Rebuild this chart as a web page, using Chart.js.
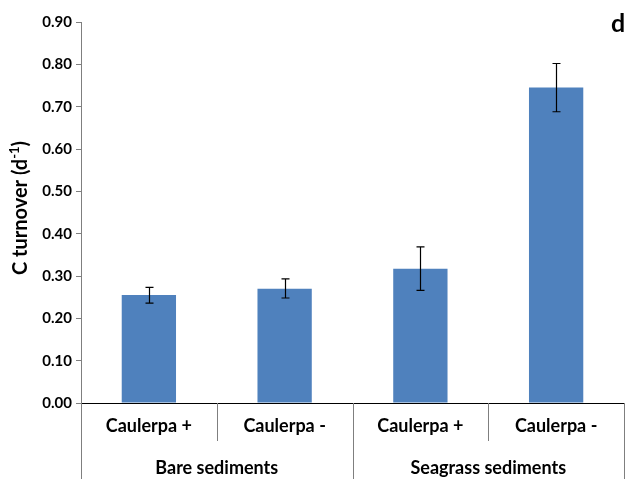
<!DOCTYPE html>
<html>
<head>
<meta charset="utf-8">
<script src="https://cdn.jsdelivr.net/npm/chart.js@4.4.0/dist/chart.umd.min.js"></script>
<style>
  html, body { margin: 0; padding: 0; background: #fff; }
  #wrap { width: 628px; height: 479px; position: relative; }
</style>
</head>
<body>
<div id="wrap"><canvas id="chart"></canvas></div>
<script>
// valores
const categories = ['Caulerpa +', 'Caulerpa -', 'Caulerpa +', 'Caulerpa -'];
const groups = ['Bare sediments', 'Seagrass sediments'];
const turnover = [0.255, 0.270, 0.317, 0.745];
const errLow = [0.236, 0.248, 0.266, 0.688];
const errHigh = [0.273, 0.293, 0.369, 0.802];
const yTicks = [0, 0.1, 0.2, 0.3, 0.4, 0.5, 0.6, 0.7, 0.8, 0.9];

const FONT = 'Lato, "Open Sans", sans-serif';

// barras de erro
const errorBars = {
  id: 'errorBars',
  afterDatasetsDraw(chart) {
    const { ctx } = chart;
    const y = chart.scales.y;
    const meta = chart.getDatasetMeta(0);
    ctx.save();
    ctx.strokeStyle = '#000';
    ctx.lineWidth = 1.2;
    meta.data.forEach((bar, i) => {
      const x = Math.round(bar.x) + 0.5;
      const yl = y.getPixelForValue(errLow[i]);
      const yh = y.getPixelForValue(errHigh[i]);
      ctx.beginPath();
      ctx.moveTo(x, yl);
      ctx.lineTo(x, yh);
      ctx.moveTo(x - 4, yh);
      ctx.lineTo(x + 4, yh);
      ctx.moveTo(x - 4, yl);
      ctx.lineTo(x + 4, yl);
      ctx.stroke();
    });
    ctx.restore();
  },
};

// eixo x em dois níveis + título do eixo y + letra do painel
const extras = {
  id: 'extras',
  afterDraw(chart) {
    const { ctx, chartArea } = chart;
    const x = chart.scales.x;
    const n = categories.length;
    const step = (chartArea.right - chartArea.left) / n;
    const bottom = chart.height;
    ctx.save();
    ctx.strokeStyle = '#7f7f7f';
    ctx.lineWidth = 1;
    for (let i = 0; i <= n; i++) {
      const px = Math.round(chartArea.left + i * step) + 0.5;
      const full = i % 2 === 0;
      ctx.beginPath();
      ctx.moveTo(px, chartArea.bottom);
      ctx.lineTo(px, full ? bottom : chartArea.bottom + 38);
      ctx.stroke();
    }
    ctx.fillStyle = '#000';
    ctx.font = 'bold 18px ' + FONT;
    ctx.textAlign = 'center';
    ctx.textBaseline = 'middle';
    groups.forEach((g, gi) => {
      const cx = (x.getPixelForValue(gi * 2) + x.getPixelForValue(gi * 2 + 1)) / 2;
      ctx.fillText(g, cx, 468);
    });

    // título do eixo y com expoente
    ctx.save();
    ctx.translate(21, 208);
    ctx.rotate(-Math.PI / 2);
    const main = 'C turnover (d';
    const sup = '-1';
    const close = ')';
    ctx.font = 'bold 20px ' + FONT;
    const wMain = ctx.measureText(main).width;
    const wClose = ctx.measureText(close).width;
    ctx.font = 'bold 13px ' + FONT;
    const wSup = ctx.measureText(sup).width;
    const total = wMain + wSup + wClose;
    let sx = -total / 2;
    ctx.textAlign = 'left';
    ctx.font = 'bold 20px ' + FONT;
    ctx.fillText(main, sx, 0);
    sx += wMain;
    ctx.font = 'bold 13px ' + FONT;
    ctx.fillText(sup, sx, -6);
    sx += wSup;
    ctx.font = 'bold 20px ' + FONT;
    ctx.fillText(close, sx, 0);
    ctx.restore();

    ctx.font = 'bold 25px ' + FONT;
    ctx.textAlign = 'center';
    ctx.fillText('d', 618, 24);
    ctx.restore();
  },
};

new Chart(document.getElementById('chart'), {
  type: 'bar',
  data: {
    labels: categories,
    datasets: [
      {
        data: turnover,
        backgroundColor: '#4f81bd',
        borderWidth: 0,
        categoryPercentage: 1,
        barPercentage: 0.4,
      },
    ],
  },
  options: {
    responsive: true,
    maintainAspectRatio: false,
    animation: false,
    layout: { padding: { top: 22, right: 4, left: 0, bottom: 0 } },
    plugins: {
      legend: { display: false },
      tooltip: { enabled: false },
    },
    scales: {
      y: {
        min: 0,
        max: 0.9,
        afterFit(scale) { scale.width = 81; },
        afterBuildTicks(scale) {
          scale.ticks = yTicks.map((v) => ({ value: v }));
        },
        ticks: {
          color: '#000',
          font: { family: FONT, size: 15, weight: 'bold' },
          padding: 4,
          callback: (v) => Number(v).toFixed(2),
        },
        grid: {
          drawOnChartArea: false,
          tickLength: 5,
          color: '#7f7f7f',
        },
        border: { color: '#7f7f7f', width: 1 },
      },
      x: {
        afterFit(scale) { scale.height = 76; },
        ticks: {
          color: '#000',
          font: { family: FONT, size: 18, weight: 'bold' },
          padding: 4,
          maxRotation: 0,
        },
        grid: { display: false },
        border: { color: '#000', width: 1 },
      },
    },
  },
  plugins: [errorBars, extras],
});
</script>
</body>
</html>
